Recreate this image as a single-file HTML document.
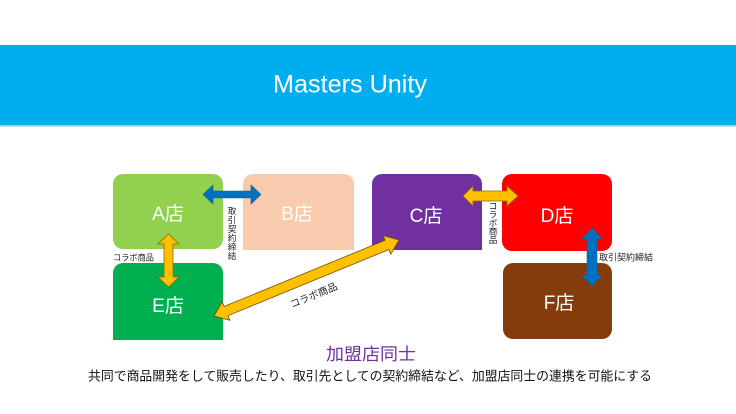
<!DOCTYPE html>
<html>
<head>
<meta charset="utf-8">
<style>
html,body{margin:0;padding:0;background:#fff;}
body{width:736px;height:414px;overflow:hidden;}
svg{display:block;}
text{font-family:"Liberation Sans","Noto Sans CJK JP",sans-serif;}
</style>
</head>
<body>
<svg width="736" height="414" viewBox="0 0 736 414" xmlns="http://www.w3.org/2000/svg">
  <rect x="0" y="0" width="736" height="414" fill="#ffffff"/>
  <!-- header -->
  <rect x="0" y="45" width="736" height="81" fill="#00AEEF"/>
  <rect x="0" y="125" width="736" height="1.5" fill="#7FD3F5"/>
  <text x="350" y="92.5" text-anchor="middle" font-size="25" fill="#ffffff" textLength="154" lengthAdjust="spacingAndGlyphs">Masters Unity</text>

  <!-- boxes -->
  <rect x="113" y="174" width="110" height="75" rx="10" fill="#92D050"/>
  <path d="M243 250 V184 a10 10 0 0 1 10 -10 H344 a10 10 0 0 1 10 10 V250 Z" fill="#F8CBAD"/>
  <path d="M372 250 V184 a10 10 0 0 1 10 -10 H472 a10 10 0 0 1 10 10 V250 Z" fill="#7030A0"/>
  <rect x="502" y="174" width="110" height="77" rx="10" fill="#FF0000"/>
  <path d="M113 340 V273 a10 10 0 0 1 10 -10 H213 a10 10 0 0 1 10 10 V340 Z" fill="#00B050"/>
  <rect x="503" y="263" width="109" height="76" rx="10" fill="#843C0C"/>

  <!-- box labels -->
  <g font-size="19" fill="#ffffff" text-anchor="middle">
    <text x="168" y="220">A店</text>
    <text x="297" y="220">B店</text>
    <text x="426" y="222">C店</text>
    <text x="557" y="222">D店</text>
    <text x="168" y="312">E店</text>
    <text x="559" y="309">F店</text>
  </g>

  <!-- A-B blue arrow -->
  <polygon points="203,194.5 213,185 213,191 251,191 251,185 261,194.5 251,204 251,198 213,198 213,204" fill="#0070C0" stroke="#1F5F99" stroke-width="0.6"/>
  <!-- A-E orange arrow -->
  <polygon points="168.5,234 179,244 173,244 173,277 179,277 168.5,287 158,277 164,277 164,244 158,244" fill="#FFC000" stroke="#8A6A00" stroke-width="0.8"/>
  <!-- C-D orange arrow -->
  <polygon points="463,196 473,186 473,191 507,191 507,186 518,196 507,206 507,201 473,201 473,206" fill="#FFC000" stroke="#8A6A00" stroke-width="0.8"/>
  <!-- D-F blue arrow -->
  <polygon points="592,228 602,239 597,239 597,275 602,275 592,286 582,275 587,275 587,239 582,239" fill="#0070C0" stroke="#1F5F99" stroke-width="0.6"/>
  <!-- diagonal E-C arrow -->
  <g transform="translate(214,316) rotate(-22.34)">
    <polygon points="0,0 13,-10 13,-5 187,-5 187,-10 200,0 187,10 187,5 13,5 13,10" fill="#FFC000" stroke="#6B5300" stroke-width="0.8"/>
  </g>

  <!-- small labels -->
  <g font-size="8.6" fill="#222222" text-anchor="middle">
    <text x="232" y="214">取</text>
    <text x="232" y="223">引</text>
    <text x="232" y="232">契</text>
    <text x="232" y="241">約</text>
    <text x="232" y="250">締</text>
    <text x="232" y="259">結</text>

    <text x="493" y="209">コ</text>
    <text x="493" y="217.5">ラ</text>
    <text x="493" y="226">ボ</text>
    <text x="493" y="234.5">商</text>
    <text x="493" y="243">品</text>
  </g>
  <text x="113" y="260.5" font-size="8.4" fill="#222222" textLength="41" lengthAdjust="spacingAndGlyphs">コラボ商品</text>
  <text x="599" y="260.5" font-size="9" fill="#222222" textLength="54" lengthAdjust="spacingAndGlyphs">取引契約締結</text>
  <text x="0" y="0" font-size="10" fill="#222222" text-anchor="middle" transform="translate(315,298.5) rotate(-22.3)">コラボ商品</text>

  <!-- bottom text -->
  <text x="371" y="360" font-size="17" fill="#7030A0" text-anchor="middle" textLength="90" lengthAdjust="spacingAndGlyphs">加盟店同士</text>
  <text x="370" y="380.5" font-size="12.8" fill="#111111" text-anchor="middle" textLength="564" lengthAdjust="spacingAndGlyphs">共同で商品開発をして販売したり、取引先としての契約締結など、加盟店同士の連携を可能にする</text>
</svg>
</body>
</html>
